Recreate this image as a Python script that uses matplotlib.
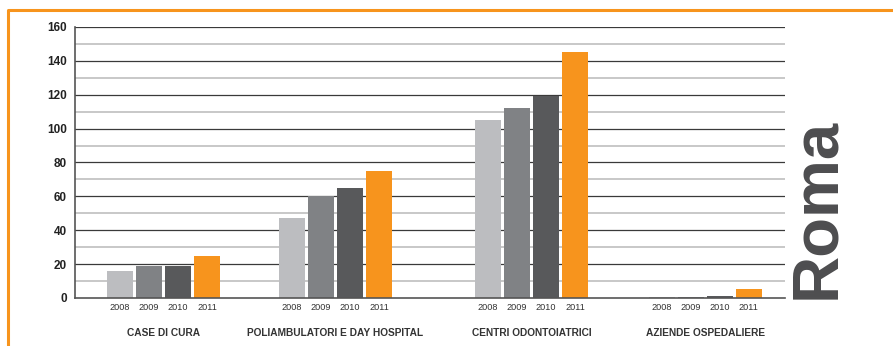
import numpy as np
import matplotlib
matplotlib.use("Agg")
import matplotlib.pyplot as plt
from matplotlib.lines import Line2D

plt.rcParams['font.family'] = ['Liberation Sans', 'DejaVu Sans']

# data
categories = ['CASE DI CURA', 'POLIAMBULATORI E DAY HOSPITAL',
              'CENTRI ODONTOIATRICI', 'AZIENDE OSPEDALIERE']
years = ['2008', '2009', '2010', '2011']
v2008 = [16, 47, 105, 0.3]
v2009 = [19, 60, 112, 0.5]
v2010 = [19, 65, 119, 1]
v2011 = [25, 75, 145, 5]
series = [v2008, v2009, v2010, v2011]
colors = ['#bcbdc0', '#808285', '#58595b', '#f7941d']

fig = plt.figure(figsize=(8.93, 3.46), dpi=100)
ax = fig.add_axes([0.084, 0.139, 0.795, 0.783])

group_x = np.array([0, 1, 2.14, 3.15])
step = 0.169
width = 0.151
offsets = (np.arange(4) - 1.5) * step

# grid: dark every 20, light every 10
for y in range(10, 170, 20):
    ax.axhline(y, color='#c4c4c4', lw=1.3, zorder=0)
for y in range(20, 180, 20):
    ax.axhline(y, color='#3a3a3a', lw=0.9, zorder=0)

for vals, off, c, yr in zip(series, offsets, colors, years):
    ax.bar(group_x + off, vals, width=width, color=c, zorder=2)
    for gx in group_x:
        ax.text(gx + off, -3, yr, ha='center', va='top', fontsize=6.6,
                color='#333333')

for gx, cat in zip(group_x, categories):
    ax.text(gx, -17.5, cat, ha='center', va='top', fontsize=7.3, fontweight='bold',
            color='#333333')

ax.set_xlim(-0.515, 3.613)
ax.set_ylim(0, 160)
ax.set_yticks(range(0, 161, 20))
ax.set_xticks([])
ax.tick_params(axis='y', length=0, pad=6, labelsize=8.5, colors='#222222')
for lab in ax.get_yticklabels():
    lab.set_fontweight('bold')
for s in ['top', 'right']:
    ax.spines[s].set_visible(False)
ax.spines['left'].set_color('#555555')
ax.spines['bottom'].set_color('#555555')
ax.spines['left'].set_linewidth(1.2)
ax.spines['bottom'].set_linewidth(1.2)

# city label
fig.text(817 / 893, 1 - 299 / 346, 'Roma', rotation=90, ha='center', va='bottom',
         fontsize=47, fontweight='bold', color='#4d4d4f')

# orange frame
fig.add_artist(Line2D([8 / 893, 8 / 893, 1], [0, 1 - 10 / 346, 1 - 10 / 346],
                      transform=fig.transFigure, color='#f7941d', lw=2.2))

fig.savefig('out.png', dpi=100)
